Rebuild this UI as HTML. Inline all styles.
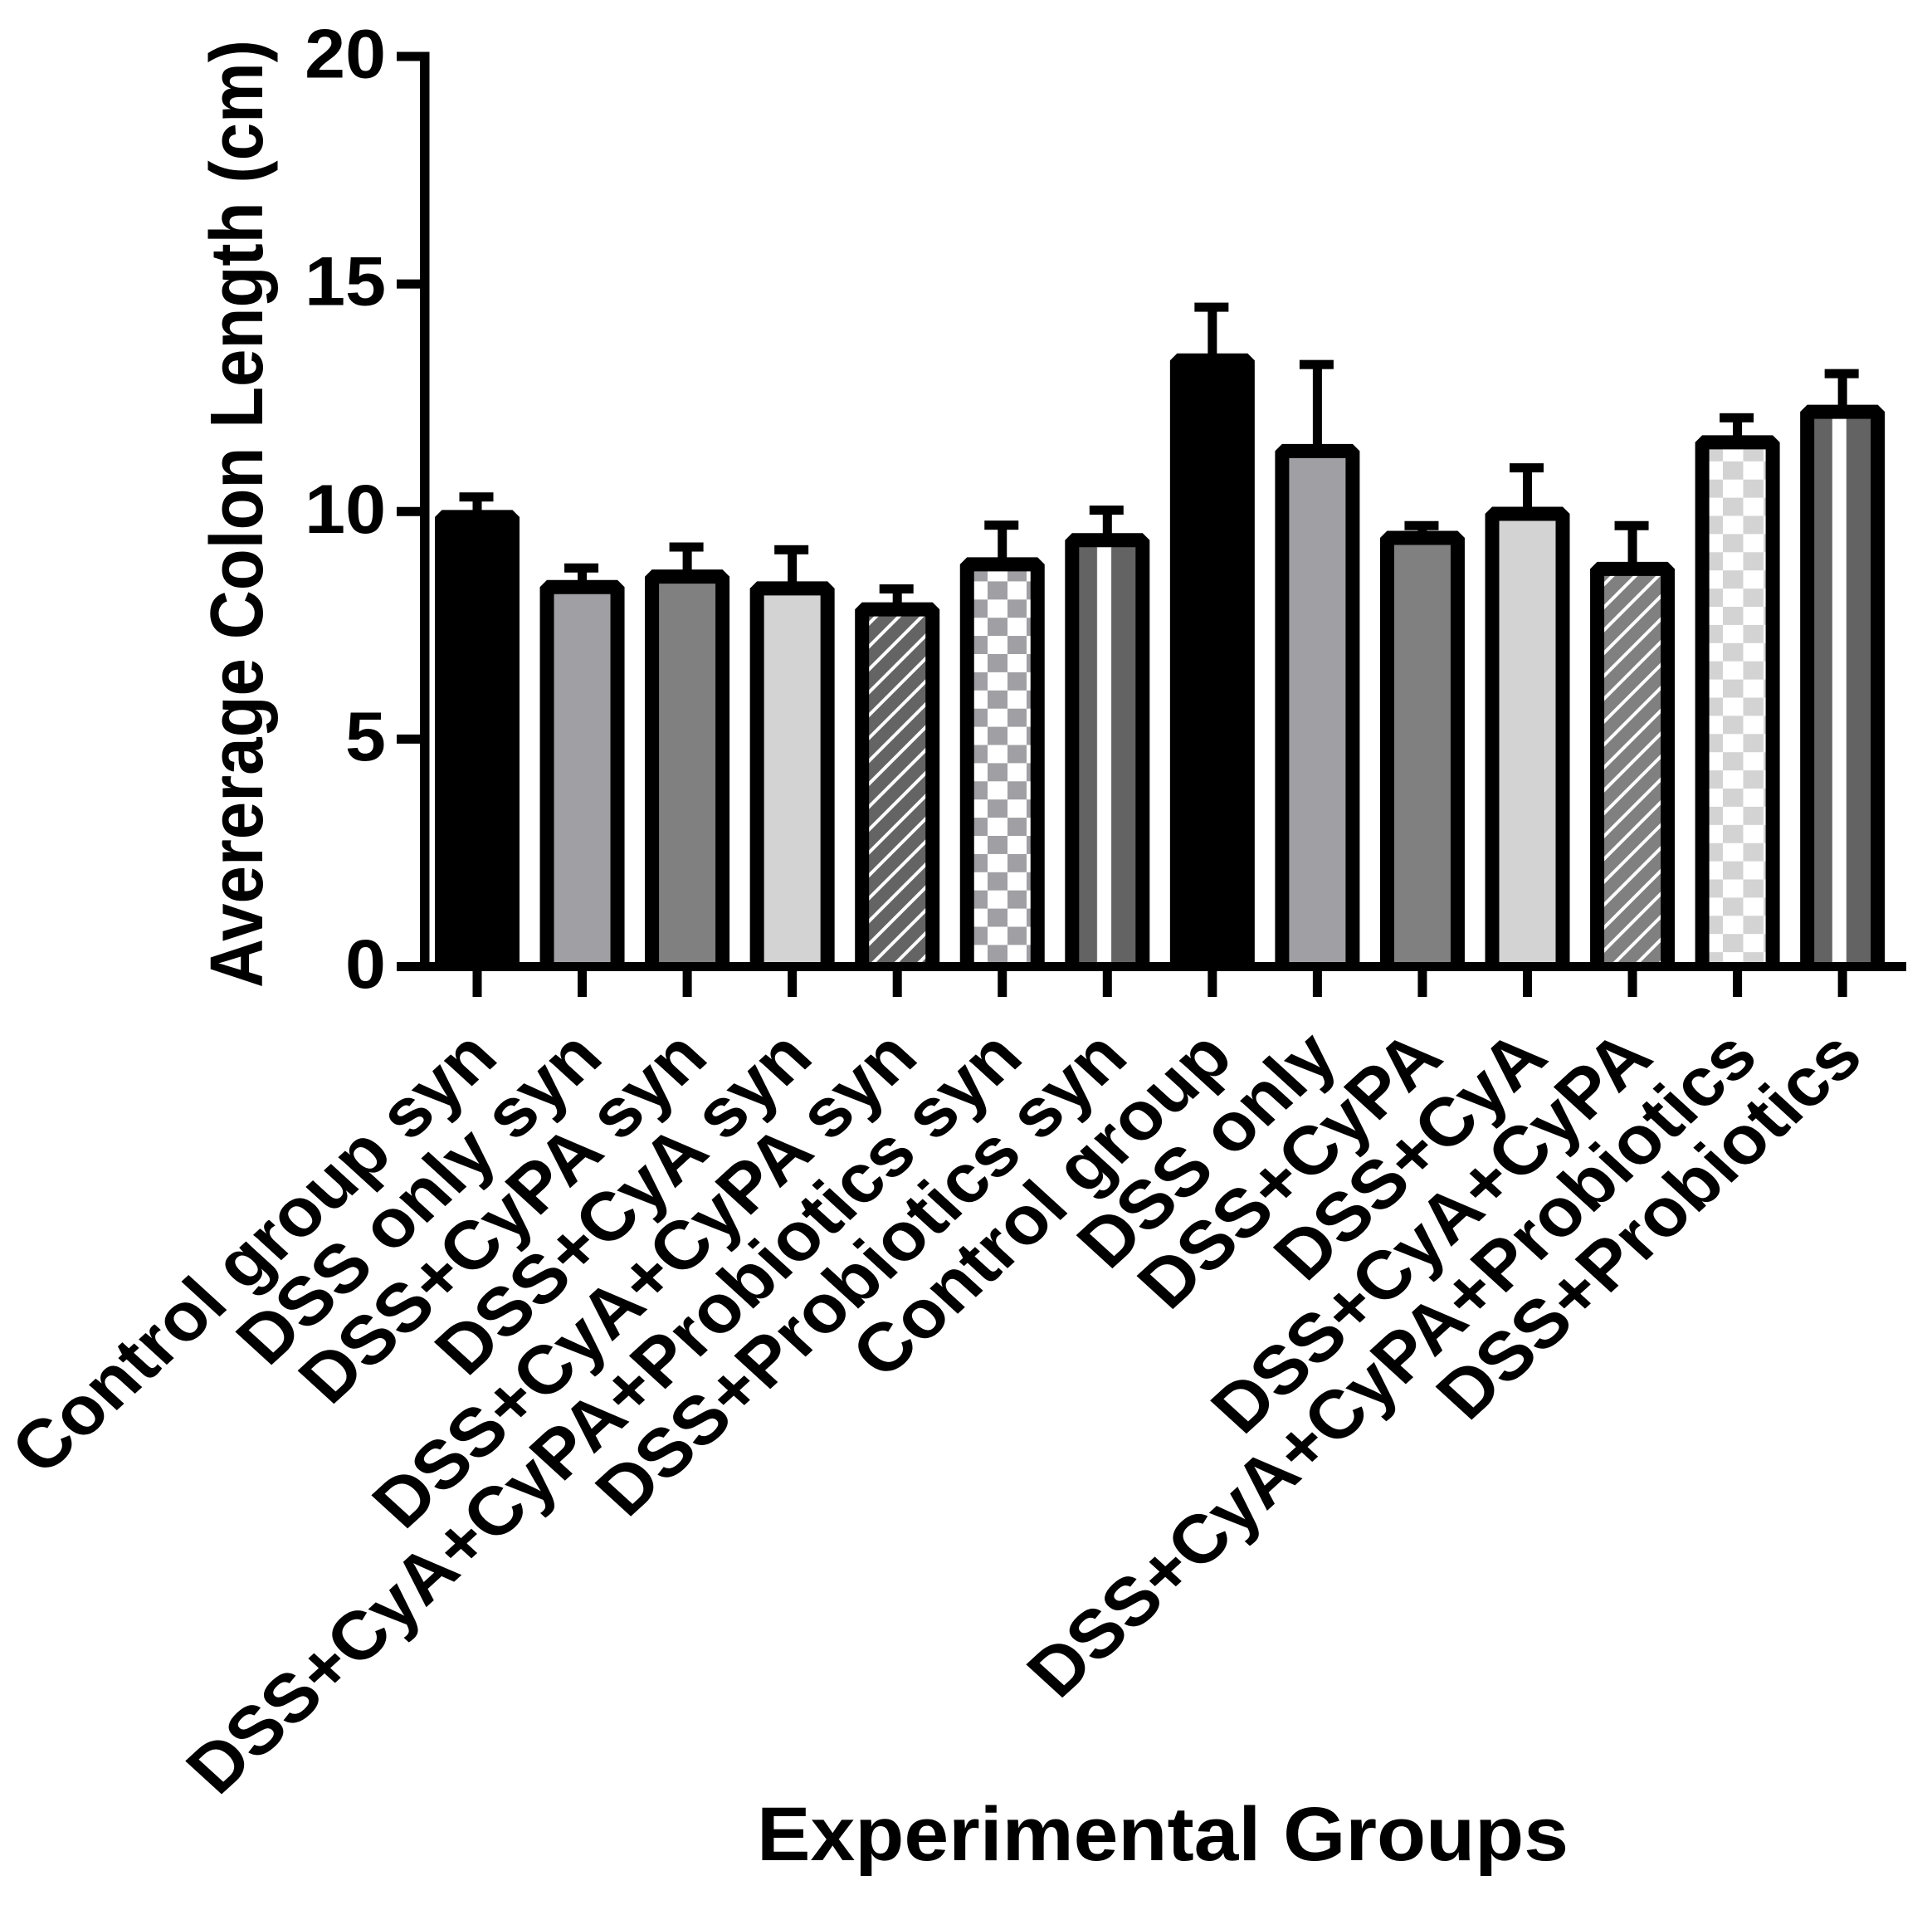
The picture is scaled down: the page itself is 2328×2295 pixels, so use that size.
<!DOCTYPE html>
<html lang="en">
<head>
<meta charset="utf-8">
<title>Average Colon Length by Experimental Group</title>
<style>
html,body{margin:0;padding:0;background:#fff;}
#chart{display:block;position:absolute;left:0;top:0;}
text{font-family:"Liberation Sans",Arial,sans-serif;font-weight:bold;fill:#000;}
</style>
</head>
<body>
<svg id="chart" xmlns="http://www.w3.org/2000/svg" width="2328" height="2295" viewBox="0 0 2328 2295">
  <defs>
    <pattern id="hatch-dark" patternUnits="userSpaceOnUse" width="19.5" height="19.5" patternTransform="translate(1034 734) rotate(45)">
      <rect width="19.5" height="19.5" fill="#646464"/>
      <rect x="0" width="4" height="19.5" fill="#fff"/>
    </pattern>
    <pattern id="hatch-mid" patternUnits="userSpaceOnUse" width="19.5" height="19.5" patternTransform="translate(1940 694) rotate(45)">
      <rect width="19.5" height="19.5" fill="#808080"/>
      <rect x="0" width="4" height="19.5" fill="#fff"/>
    </pattern>
    <pattern id="check-dark" patternUnits="userSpaceOnUse" x="1166.5" y="678.5" width="47" height="43.8">
      <rect width="47" height="43.8" fill="#fff"/>
      <rect width="23.5" height="21.9" fill="#a09fa4"/>
      <rect x="23.5" y="21.9" width="23.5" height="21.9" fill="#a09fa4"/>
    </pattern>
    <pattern id="check-light" patternUnits="userSpaceOnUse" x="2051.5" y="533.9" width="49" height="43.8">
      <rect width="49" height="43.8" fill="#fff"/>
      <rect width="24.5" height="21.9" fill="#d3d3d3"/>
      <rect x="24.5" y="21.9" width="24.5" height="21.9" fill="#d3d3d3"/>
    </pattern>
    <pattern id="stripe-dark" patternUnits="objectBoundingBox" width="1" height="1" patternContentUnits="objectBoundingBox">
      <rect width="1" height="1" fill="#636363"/>
      <rect x="0.355" width="0.2" height="1" fill="#fff"/>
    </pattern>
  </defs>
  <g id="error-bars"></g>
  <g id="bars"></g>
  <g id="axes"></g>
  <g id="y-tick-labels"></g>
  <g id="x-tick-labels"></g>
  <text transform="translate(316 1190) rotate(-90)" font-size="90" textLength="1142" lengthAdjust="spacingAndGlyphs">Avererage Colon Length (cm)</text>
  <text x="912" y="2241" font-size="92" textLength="978" lengthAdjust="spacingAndGlyphs">Experimental Groups</text>
</svg>
<script>
const categories = ["Control group syn","DSS only syn","DSS+CyPA syn","DSS+CyA syn","DSS+CyA+CyPA syn","DSS+CyA+CyPA+Probiotics syn","DSS+Probiotics syn","Control group","DSS only","DSS+CyPA","DSS+CyA","DSS+CyA+CyPA","DSS+CyA+CyPA+Probiotics","DSS+Probiotics"];
const meanValues = [9.88,8.34,8.57,8.31,7.85,8.84,9.37,13.32,11.33,9.42,9.95,8.74,11.52,12.19];
const errorTops = [10.32,8.76,9.22,9.16,8.30,9.70,10.03,14.49,13.23,9.69,10.96,9.69,12.06,13.03];
const fills = ["#000000","#a09fa4","#808080","#d3d3d3","url(#hatch-dark)","url(#check-dark)","url(#stripe-dark)","#000000","#a09fa4","#808080","#d3d3d3","url(#hatch-mid)","url(#check-light)","url(#stripe-dark)"];
const yTicks = [0,5,10,15,20];

const NS = "http://www.w3.org/2000/svg";
const y0 = 1164.5, y20 = 68, x0 = 575, xStep = 126.55;
const yScale = v => y0 - (y0 - y20) * v / 20;
const xScale = i => x0 + xStep * i;

function make(tag, attrs, parent) {
  const el = document.createElementNS(NS, tag);
  for (const k in attrs) el.setAttribute(k, attrs[k]);
  parent.appendChild(el);
  return el;
}
const slug = s => s.toLowerCase().replace(/[^a-z0-9]+/g, "-");

const errG = document.getElementById("error-bars");
const barG = document.getElementById("bars");
const axG = document.getElementById("axes");
const yLabG = document.getElementById("y-tick-labels");
const xLabG = document.getElementById("x-tick-labels");

categories.forEach((name, i) => {
  const cx = xScale(i);
  const top = yScale(meanValues[i]);
  const capY = yScale(errorTops[i]);

  const stem = make("rect", {x: cx - 5.5, y: capY, width: 11, height: Math.max(0, top - capY), fill: "#000"}, errG);
  
  
  const cap = make("rect", {x: cx - 21.5, y: capY - 5.5, width: 41, height: 11, fill: "#000"}, errG);
  
  

  const d = "M" + (cx - 42.5) + " " + y0 + "V" + top + "H" + (cx + 42.5) + "V" + y0;
  const bar = make("path", {d: d, fill: fills[i], stroke: "#000", "stroke-width": 17, "stroke-linejoin": "bevel", "stroke-linecap": "butt"}, barG);
  
  

  const tick = make("rect", {x: cx - 5.5, y: y0 + 5, width: 11, height: 31.5, fill: "#000"}, axG);
  
  

  const lab = make("text", {transform: "translate(" + (cx + 28) + " 1277) scale(1 0.913) rotate(-45)", "text-anchor": "end", "font-size": 90}, xLabG);
  lab.textContent = name;
  
  
});

const yAxis = make("rect", {x: 506, y: y20 - 5.5, width: 11.5, height: y0 - y20 + 10.5, fill: "#000"}, axG);


const xAxis = make("rect", {x: 478, y: y0 - 5.5, width: 1819, height: 11, fill: "#000"}, axG);



yTicks.forEach(t => {
  const y = yScale(t);
  const tk = make("rect", {x: 478, y: y - 5.5, width: 30, height: 11, fill: "#000"}, axG);
  
  
  const lb = make("text", {transform: "translate(465 " + (y + 25.5) + ") scale(1 0.95)", "text-anchor": "end", "font-size": 88}, yLabG);
  lb.textContent = String(t);
  
  
});
</script>
</body>
</html>
